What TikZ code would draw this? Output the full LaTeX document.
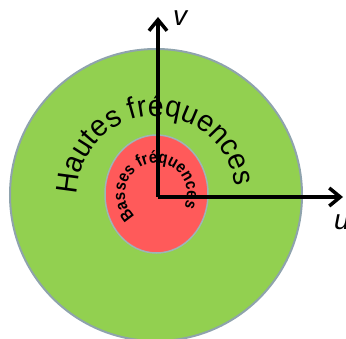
\documentclass[tikz,border=0pt]{standalone}
\usepackage{fontspec}
\setmainfont{Liberation Sans}
\newfontfamily\hautefont[FakeStretch=0.95]{Liberation Sans}
\newfontfamily\bassefont[FakeStretch=0.88]{Liberation Sans}
\usetikzlibrary{arrows.meta,decorations.text}
\definecolor{vert}{HTML}{92D050}
\definecolor{rouge}{HTML}{FF5A5A}
\definecolor{bordgris}{HTML}{8FA3AD}
\definecolor{bordbleu}{HTML}{9DB5B8}
\tikzset{
  axe/.style={line width=3.5pt, -{Straight Barb[length=11pt,width=18pt]}},
  axelabel/.style={font=\fontsize{28}{28}\selectfont\itshape, inner sep=0pt}
}

\begin{document}
\begin{tikzpicture}[x=1pt,y=1pt]
\useasboundingbox (0,0) rectangle (346,338);
\fill[vert, draw=bordgris, line width=2pt] (156,143) circle (146);
\fill[rouge, draw=bordbleu, line width=1.5pt] (156.5,144) ellipse (51.5 and 59);
\path[decorate, decoration={text along path, text align=center,
  text={|\fontsize{30}{30}\hautefont|Hautes fréquences}}] (77.1,141.6) arc (181:5:79);
\path[decorate, decoration={text along path, text align=center,
  text={|\fontsize{17}{17}\bassefont\bfseries|Basses fréquences}}] (136.1,120.3) arc (230:-28:31);
\coordinate (O) at (158,141);
\coordinate (vtip) at (158,321);
\coordinate (utip) at (343,141);
\draw[axe] (O) -- (vtip);
\draw[axe] (O) -- (utip);
\node[axelabel] (vlab) at (180,320) {v};
\node[axelabel] (ulab) at (342,116) {u};
\end{tikzpicture}
\end{document}
